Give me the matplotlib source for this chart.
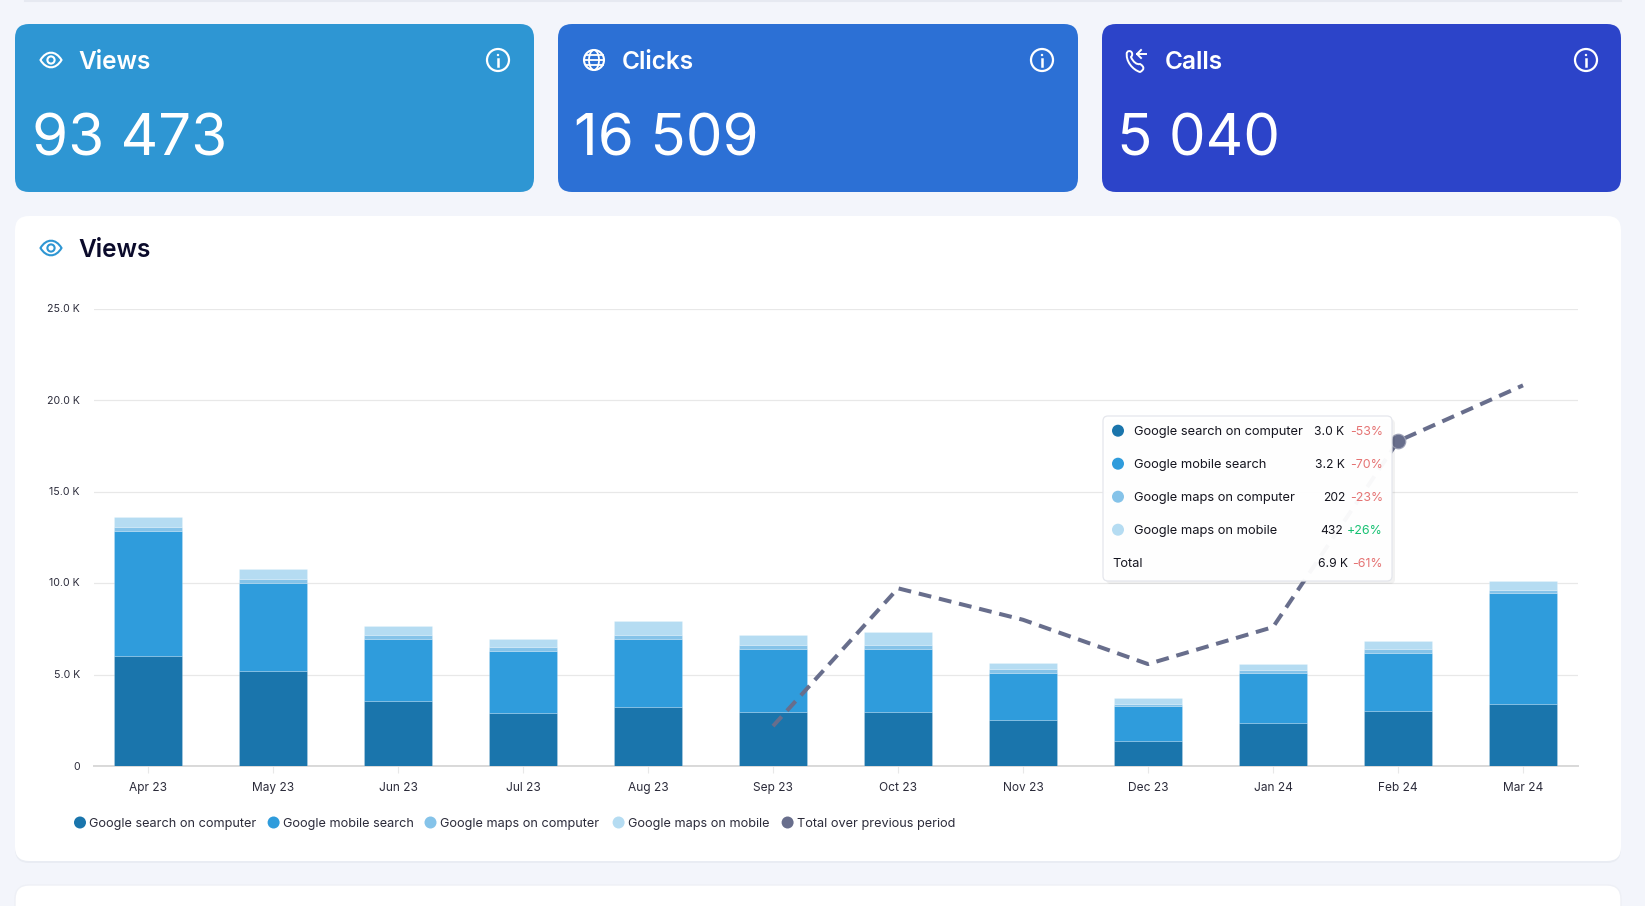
import matplotlib
matplotlib.use('Agg')
import matplotlib.pyplot as plt
import numpy as np
from matplotlib.patches import FancyBboxPatch, Circle, PathPatch, Ellipse
from matplotlib.path import Path
from matplotlib.transforms import ScaledTranslation

# chart values, in thousands
months = ['Apr 23', 'May 23', 'Jun 23', 'Jul 23', 'Aug 23', 'Sep 23',
          'Oct 23', 'Nov 23', 'Dec 23', 'Jan 24', 'Feb 24', 'Mar 24']
search_computer = [6.03, 5.17, 3.56, 2.87, 3.22, 2.93, 2.93, 2.53, 1.38, 2.36, 3.00, 3.39]
mobile_search = [6.79, 4.83, 3.39, 3.39, 3.73, 3.45, 3.45, 2.53, 1.90, 2.70, 3.20, 6.04]
maps_computer = [0.23, 0.23, 0.23, 0.23, 0.23, 0.22, 0.22, 0.23, 0.11, 0.17, 0.20, 0.17]
maps_mobile = [0.57, 0.52, 0.46, 0.46, 0.75, 0.58, 0.70, 0.34, 0.35, 0.34, 0.43, 0.50]
previous_months = ['Sep 23', 'Oct 23', 'Nov 23', 'Dec 23', 'Jan 24', 'Feb 24', 'Mar 24']
previous_total = [2.18, 9.71, 7.99, 5.57, 7.59, 17.75, 20.80]

y_ticks = [0, 5, 10, 15, 20, 25]
y_labels = ['0', '5.0 K', '10.0 K', '15.0 K', '20.0 K', '25.0 K']

series_names = ['Google search on computer', 'Google mobile search',
                'Google maps on computer', 'Google maps on mobile']
series_colors = ['#1a75ac', '#2f9cdc', '#85c3e9', '#b5dcf2']
line_color = '#686e8c'

card_titles = ['Views', 'Clicks', 'Calls']
card_values = ['93 473', '16 509', '5 040']
card_colors = ['#2e96d3', '#2c70d5', '#2c44c9']

tip_values = ['3.0 K', '3.2 K', '202', '432', '6.9 K']
tip_changes = ['-53%', '-70%', '-23%', '+26%', '-61%']

W, H = 1645, 906
plt.rcParams['font.family'] = ['Inter', 'DejaVu Sans']

fig = plt.figure(figsize=(W / 100, H / 100), dpi=100, facecolor='#f3f5fb')


def pixel_axes(z):
    a = fig.add_axes([0, 0, 1, 1], zorder=z)
    a.set_xlim(0, W)
    a.set_ylim(H, 0)
    a.axis('off')
    a.patch.set_alpha(0)
    return a


def box(a, x0, y0, x1, y1, r, **kw):
    p = FancyBboxPatch((x0 + r, y0 + r), x1 - x0 - 2 * r, y1 - y0 - 2 * r,
                       boxstyle='round,pad=%s,rounding_size=%s' % (r, r), **kw)
    a.add_patch(p)
    return p


def eye(a, cx, cy, col):
    w, h = 10.5, 7.5
    verts = [(cx - w, cy), (cx - w * 0.45, cy - h * 1.3), (cx + w * 0.45, cy - h * 1.3), (cx + w, cy),
             (cx + w * 0.45, cy + h * 1.3), (cx - w * 0.45, cy + h * 1.3), (cx - w, cy), (cx - w, cy)]
    codes = [Path.MOVETO, Path.CURVE4, Path.CURVE4, Path.CURVE4, Path.CURVE4, Path.CURVE4, Path.CURVE4, Path.CLOSEPOLY]
    a.add_patch(PathPatch(Path(verts, codes), fc='none', ec=col, lw=1.5))
    a.add_patch(Circle((cx, cy), 3.6, fc='none', ec=col, lw=1.5))


def globe(a, cx, cy, col):
    r = 10
    a.add_patch(Circle((cx, cy), r, fc='none', ec=col, lw=1.5))
    a.add_patch(Ellipse((cx, cy), r, 2 * r, fc='none', ec=col, lw=1.3))
    a.plot([cx - r, cx + r], [cy, cy], color=col, lw=1.3)
    a.plot([cx - r + 1.5, cx + r - 1.5], [cy - 5, cy - 5], color=col, lw=1.3)
    a.plot([cx - r + 1.5, cx + r - 1.5], [cy + 5, cy + 5], color=col, lw=1.3)


def phone(a, cx, cy, col):
    verts = [(cx - 10, cy - 8), (cx - 6, cy - 11), (cx - 3, cy - 6), (cx - 6, cy - 3),
             (cx - 4, cy + 2), (cx, cy + 5), (cx + 3, cy + 4),
             (cx + 8, cy + 7), (cx + 7, cy + 10), (cx + 3, cy + 12),
             (cx - 4, cy + 10), (cx - 12, cy + 1), (cx - 10, cy - 8)]
    codes = [Path.MOVETO] + [Path.CURVE4] * 12
    a.add_patch(PathPatch(Path(verts, codes), fc='none', ec=col, lw=1.4))
    a.plot([cx, cx + 9], [cy - 6, cy - 6], color=col, lw=1.4)
    a.plot([cx + 4, cx, cx + 4], [cy - 10, cy - 6, cy - 2], color=col, lw=1.4)


def info(a, cx, cy, col):
    a.add_patch(Circle((cx, cy), 11, fc='none', ec=col, lw=1.6))
    a.plot([cx, cx], [cy - 1, cy + 5.5], color=col, lw=1.8)
    a.add_patch(Circle((cx, cy - 5), 1.2, fc=col, ec='none'))


# page background and cards
bg = pixel_axes(0)
bg.plot([25, 1621], [0.5, 0.5], color='#e6e9f1', lw=1.5)
card_x = [(15, 534), (558, 1078), (1102, 1621)]
icon_x = [51, 594, 1137]
title_x = [78, 622, 1165]
value_x = [32, 574, 1117]
info_x = [498, 1042, 1586]
for i in range(3):
    box(bg, card_x[i][0], 24, card_x[i][1], 192, 14, fc=card_colors[i], ec='none')
    bg.text(title_x[i], 62.5, card_titles[i], color='white', fontsize=17.6, fontweight='semibold',
            va='center', ha='left')
    bg.text(value_x[i], 141, card_values[i], color='white', fontsize=42, va='center', ha='left')
    info(bg, info_x[i], 60, 'white')
eye(bg, icon_x[0], 60, 'white')
globe(bg, icon_x[1], 60, 'white')
phone(bg, icon_x[2], 60, 'white')

# soft shadow under the white cards
box(bg, 15, 218, 1621, 863, 14, fc='#e9ecf3', ec='none')
box(bg, 15, 216, 1621, 861, 14, fc='white', ec='none')
box(bg, 15, 885, 1621, 960, 14, fc='white', ec='#eef0f6', lw=1)
eye(bg, 51, 248, '#2e96d3')
bg.text(78, 250.5, 'Views', color='#0b0b2b', fontsize=17.6, fontweight='semibold', va='center', ha='left')

# the chart itself
ax = fig.add_axes([94 / W, 1 - 766 / H, (1578 - 94) / W, (766 - 308.5) / H], zorder=1)
ax.patch.set_alpha(0)
x = np.arange(len(months))
bottom = np.zeros(len(months))
for name, vals, col in zip(series_names, [search_computer, mobile_search, maps_computer, maps_mobile], series_colors):
    vals = np.array(vals)
    ax.bar(x, vals, width=0.55, bottom=bottom, color=col, edgecolor=(1, 1, 1, 0.25), linewidth=0.5, zorder=3)
    bottom = bottom + vals

line_x = [months.index(m) for m in previous_months]
ax.plot(line_x, previous_total, color=line_color, lw=2.9, dashes=(3.2, 1.95), zorder=4)
ax.scatter([line_x[5]], [previous_total[5]], s=110, color=line_color, edgecolor='#9ca0b5', linewidth=0.8, zorder=5)

ax.set_xlim(-0.432, 11.44)
ax.set_ylim(0, 25)
ax.set_yticks(y_ticks)
ax.set_yticklabels(y_labels)
ax.set_xticks(x)
ax.set_xticklabels(months)
ax.tick_params(axis='y', length=0, pad=10.2, labelsize=7.6, labelcolor='#2b2b3a')
ax.tick_params(axis='x', length=5, width=0.8, color='#e8e8e8', pad=6.8, labelsize=8.6, labelcolor='#2b2b3a')
for lab in ax.get_yticklabels():
    lab.set_transform(lab.get_transform() + ScaledTranslation(0, 0.5 / 100, fig.dpi_scale_trans))
ax.grid(axis='y', color='#e8e8e8', lw=0.9, zorder=0)
ax.set_axisbelow(True)
for s in ['top', 'right', 'left']:
    ax.spines[s].set_visible(False)
ax.spines['bottom'].set_color('#d9d9d9')
ax.spines['bottom'].set_linewidth(1.4)

# legend and tooltip on top
fg = pixel_axes(2)
legend_names = series_names + ['Total over previous period']
legend_cols = series_colors + [line_color]
legend_dots = [80, 273.6, 430.5, 618.6, 787.6]
for name, col, dx in zip(legend_names, legend_cols, legend_dots):
    fg.add_patch(Circle((dx, 822.5), 6, fc=col, ec='none'))
    fg.text(dx + 9, 824.5, name, fontsize=9.15, color='#2b2b3a', va='center', ha='left')

box(fg, 1106, 419, 1395, 584, 5, fc='#000000', ec='none', alpha=0.05)
box(fg, 1103, 416, 1392, 581, 5, fc='white', ec='#e4e6ec', lw=0.9, alpha=0.96)
tip_rows = [430.7, 463.7, 496.7, 529.7, 562.7]
value_right = [1344, 1345, 1345, 1343, 1348]
tip_names = series_names + ['Total']
for i, yy in enumerate(tip_rows):
    if i < 4:
        fg.add_patch(Circle((1118, yy), 6, fc=series_colors[i], ec='none'))
        nx = 1133.5
    else:
        nx = 1112.5
    fg.text(nx, yy + 1.5, tip_names[i], fontsize=9.25, color='#15151f', va='center', ha='left')
    fg.text(value_right[i], yy + 1.5, tip_values[i], fontsize=8.7, color='#15151f', va='center', ha='right')
    fg.text(1383, yy + 1.5, tip_changes[i], fontsize=8.9, color='#16c172' if tip_changes[i].startswith('+') else '#e57373',
            va='center', ha='right')

fig.savefig('out.png', dpi=100, facecolor=fig.get_facecolor())
